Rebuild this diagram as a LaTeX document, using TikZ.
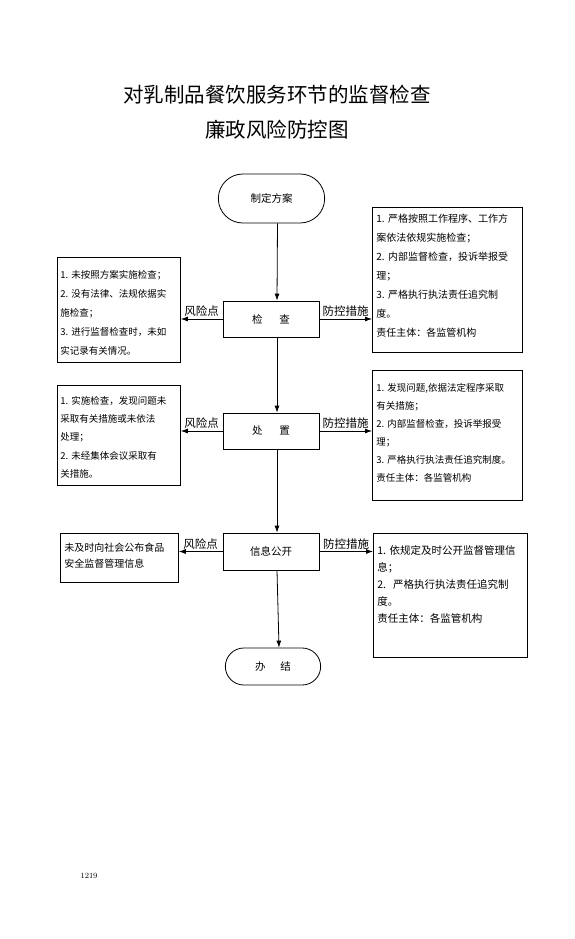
\documentclass[tikz,border=0pt]{standalone}
\usepackage{fontspec}
\newfontfamily\cjk{Noto Sans CJK SC}
\usetikzlibrary{arrows.meta,shapes.misc}

\begin{document}
\begin{tikzpicture}[x=1pt,y=-1pt,
		every node/.style={font=\cjk},
		term/.style={draw,rounded rectangle,line width=.8pt,font=\cjk\fontsize{10.5}{12}\selectfont},
		stepbox/.style={draw,line width=.8pt,minimum width=96,minimum height=36,font=\cjk\fontsize{10.5}{12}\selectfont},
		note/.style={draw,line width=.8pt,anchor=north west,align=left,inner xsep=4pt,inner ysep=0pt},
		lbl/.style={font=\cjk\fontsize{11.5}{12}\selectfont,inner sep=2pt},
		arr/.style={-{Latex[length=7pt,width=5pt]},line width=.8pt}]
		\fill[white] (0,0) rectangle (574,939);
		\useasboundingbox (0,0) rectangle (574,939);
		\node[font=\cjk\fontsize{20.5}{35}\selectfont,align=center] (title) at (277,112) {对乳制品餐饮服务环节的监督检查\\廉政风险防控图};
		\node[term,minimum width=113,minimum height=49] (start) at (271.5,198.5) {制定方案};
		\node[stepbox] (check) at (271,319) {检\hspace{1.6em}查};
		\node[stepbox] (handle) at (271,431) {处\hspace{1.6em}置};
		\node[stepbox,minimum height=37] (info) at (271,551.5) {信息公开};
		\node[term,minimum width=102,minimum height=37] (finish) at (273,666.5) {办\hspace{1.4em}结};
		\node[note,inner xsep=3pt,font=\cjk\fontsize{9.5}{19}\selectfont,text width=117,text height=21,text depth=84] (risk1) at (57,257) {1.~未按照方案实施检查；\\2.~没有法律、法规依据实\\施检查；\\3.~进行监督检查时，未如\\实记录有关情况。};
		\node[note,font=\cjk\fontsize{10}{19}\selectfont,text width=142,text height=15,text depth=130] (ctrl1) at (372,207) {1.~严格按照工作程序、工作方\\案依法依规实施检查；\\2.~内部监督检查，投诉举报受\\理；\\3.~严格执行执法责任追究制\\度。\\责任主体：各监管机构};
		\node[note,inner xsep=3pt,font=\cjk\fontsize{9.5}{18.25}\selectfont,text width=117,text height=19,text depth=81] (risk2) at (57,385) {1.~实施检查，发现问题未\\采取有关措施或未依法\\处理；\\2.~未经集体会议采取有\\关措施。};
		\node[note,font=\cjk\fontsize{9.5}{18}\selectfont,text width=142,text height=21,text depth=109] (ctrl2) at (372,370) {1.~发现问题,依据法定程序采取\\有关措施；\\2.~内部监督检查，投诉举报受\\理；\\3.~严格执行执法责任追究制度。\\责任主体：各监管机构};
		\node[note,font=\cjk\fontsize{10}{16}\selectfont,text width=110,text height=18,text depth=31] (risk3) at (60,533) {未及时向社会公布食品\\安全监督管理信息};
		\node[note,font=\cjk\fontsize{10.5}{17}\selectfont,text width=146,text height=21,text depth=103] (ctrl3) at (373,533) {1.~依规定及时公开监督管理信\\息；\\2.~~严格执行执法责任追究制\\度。\\责任主体：各监管机构};
		\node[font=\fontsize{8}{9}\selectfont] (pnum) at (89,876) {1219};
		\draw[arr] ([xshift=6]start.south) -- ([xshift=6]check.north);
		\draw[arr] ([xshift=6]check.south) -- ([xshift=6]handle.north);
		\draw[arr] ([xshift=6]handle.south) -- ([xshift=6]info.north);
		\draw[arr] ([xshift=6]info.south) -- ([xshift=6]finish.north);
		\draw[arr] (check.west) -- (check.west -| risk1.east) node[midway,above,lbl] {风险点};
		\draw[arr] (check.east) -- (check.east -| ctrl1.west) node[midway,above,lbl] {防控措施};
		\draw[arr] (handle.west) -- (handle.west -| risk2.east) node[midway,above,lbl] {风险点};
		\draw[arr] (handle.east) -- (handle.east -| ctrl2.west) node[midway,above,lbl] {防控措施};
		\draw[arr] (info.west) -- (info.west -| risk3.east) node[midway,above,lbl] {风险点};
		\draw[arr] (info.east) -- (info.east -| ctrl3.west) node[midway,above,lbl] {防控措施};
	\end{tikzpicture}
\end{document}
